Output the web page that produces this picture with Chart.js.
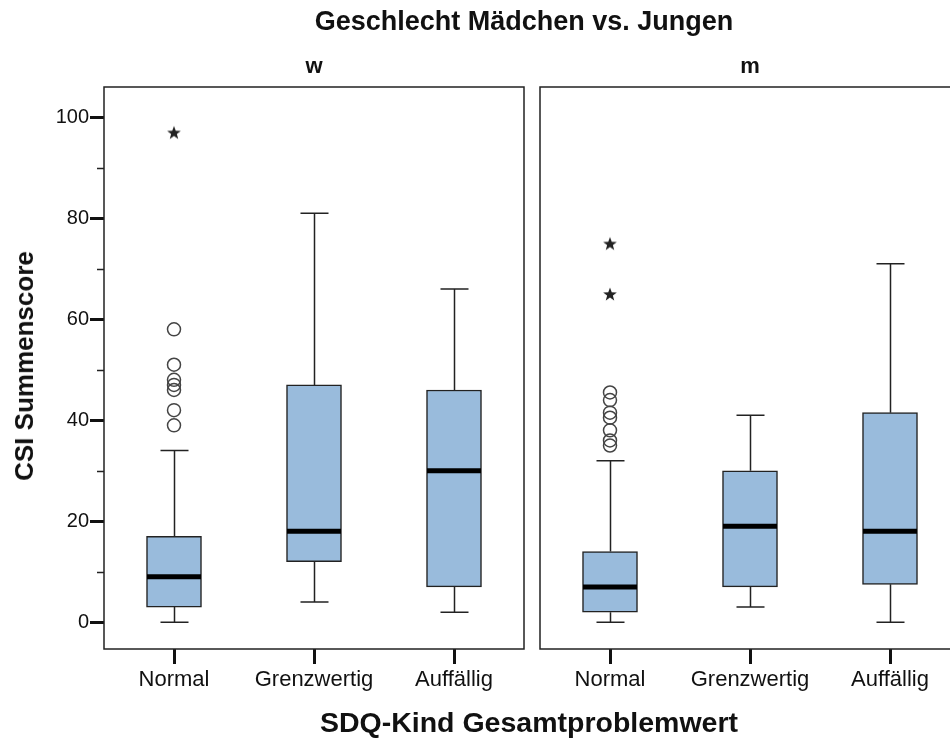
<!DOCTYPE html>
<html>
<head>
<meta charset="utf-8">
<script src="https://cdn.jsdelivr.net/npm/chart.js@4.4.1/dist/chart.umd.min.js"></script>
<style>
  html, body { margin: 0; padding: 0; background: #fff; }
  #wrap { position: relative; width: 950px; height: 747px; overflow: hidden; background: #fff;
          font-family: "Liberation Sans", Arial, sans-serif; color: #111; }
  canvas { position: absolute; top: 0; }
  .t { position: absolute; white-space: nowrap; line-height: 1; font-weight: bold; transform: translate(-50%, -50%); }
</style>
</head>
<body>
<div id="wrap">
  <canvas id="cw" width="533" height="747" style="left:0px"></canvas>
  <canvas id="cm" width="440" height="747" style="left:530px"></canvas>
  <div class="t" id="mainTitle" style="left:524px; top:21px; font-size:27px;">Geschlecht Mädchen vs. Jungen</div>
  <div class="t" id="panelW" style="left:314px; top:66px; font-size:22px;">w</div>
  <div class="t" id="panelM" style="left:750px; top:66px; font-size:22px;">m</div>
  <div class="t" id="xTitle" style="left:529px; top:722px; font-size:28.5px;">SDQ-Kind Gesamtproblemwert</div>
  <div class="t" id="yTitle" style="left:24px; top:366px; font-size:26px; transform: translate(-50%, -50%) rotate(-90deg);">CSI Summenscore</div>
</div>
<script>
// ---------- data ----------
const categories = ['Normal', 'Grenzwertig', 'Auffällig'];
const yTickValues = [0, 10, 20, 30, 40, 50, 60, 70, 80, 90, 100];

// Panel "w" (Mädchen)
const wMin = [0, 4, 2];
const wQ1  = [3, 12, 7];
const wMed = [9, 18, 30];
const wQ3  = [17, 47, 46];
const wMax = [34, 81, 66];
const wNormalOutliers = [58, 51, 48, 47, 46, 42, 39];
const wNormalExtremes = [97];

// Panel "m" (Jungen)
const mMin = [0, 3, 0];
const mQ1  = [2, 7, 7.5];
const mMed = [7, 19, 18];
const mQ3  = [14, 30, 41.5];
const mMax = [32, 41, 71];
const mNormalOutliers = [45.5, 44, 41.5, 40.5, 38, 36, 35];
const mNormalExtremes = [75, 65];

// ---------- styles ----------
const BOX_FILL = '#99bbdc';
const LINE = '#222';
const FONT = '"Liberation Sans", Arial, sans-serif';

// five-pointed star marker for extremes
function makeStar() {
  const c = document.createElement('canvas');
  c.width = 18; c.height = 18;
  const g = c.getContext('2d');
  g.fillStyle = '#222';
  g.beginPath();
  const cx = 9, cy = 9.6, R = 7.2, r = 3.0;
  for (let k = 0; k < 10; k++) {
    const rad = k % 2 === 0 ? R : r;
    const a = -Math.PI / 2 + k * Math.PI / 5;
    const x = cx + rad * Math.cos(a), y = cy + rad * Math.sin(a);
    if (k === 0) g.moveTo(x, y); else g.lineTo(x, y);
  }
  g.closePath();
  g.fill();
  return c;
}
const starImg = makeStar();

function buildChart(id, q1, med, q3, lo, hi, outliers, extremes, showY, padding) {
  const whiskerPlugin = {
    id: 'whiskers',
    afterDatasetsDraw(chart) {
      const ctx = chart.ctx, xs = chart.scales.x, ys = chart.scales.y;
      ctx.save();
      ctx.strokeStyle = LINE;
      ctx.lineWidth = 1.5;
      categories.forEach((c, i) => {
        const x = Math.round(xs.getPixelForValue(i)) + 0.5;
        const yLo = ys.getPixelForValue(lo[i]), yQ1 = ys.getPixelForValue(q1[i]);
        const yQ3 = ys.getPixelForValue(q3[i]), yHi = ys.getPixelForValue(hi[i]);
        ctx.beginPath();
        ctx.moveTo(x, yQ1); ctx.lineTo(x, yLo);
        ctx.moveTo(x - 14, yLo); ctx.lineTo(x + 14, yLo);
        ctx.moveTo(x, yQ3); ctx.lineTo(x, yHi);
        ctx.moveTo(x - 14, yHi); ctx.lineTo(x + 14, yHi);
        ctx.stroke();
      });
      ctx.strokeStyle = '#000';
      ctx.lineWidth = 5;
      categories.forEach((c, i) => {
        const x = xs.getPixelForValue(i);
        const ym = ys.getPixelForValue(med[i]);
        ctx.beginPath();
        ctx.moveTo(x - 27, ym); ctx.lineTo(x + 27, ym);
        ctx.stroke();
      });
      ctx.restore();
    },
    afterDraw(chart) {
      const ctx = chart.ctx, a = chart.chartArea, ys = chart.scales.y;
      ctx.save();
      ctx.strokeStyle = LINE;
      ctx.lineWidth = 1.5;
      ctx.strokeRect(a.left, a.top, a.right - a.left, a.bottom - a.top);
      if (showY) {
        ctx.beginPath();
        yTickValues.forEach(v => {
          if (v % 20 !== 0) {
            const y = Math.round(ys.getPixelForValue(v)) + 0.5;
            ctx.moveTo(a.left - 7, y); ctx.lineTo(a.left, y);
          }
        });
        ctx.stroke();
      }
      ctx.restore();
    }
  };

  return new Chart(document.getElementById(id), {
    type: 'bar',
    data: {
      labels: categories,
      datasets: [
        {
          type: 'bar',
          data: categories.map((c, i) => [q1[i], q3[i]]),
          backgroundColor: BOX_FILL,
          borderColor: LINE,
          borderWidth: 1.5,
          borderSkipped: false,
          barThickness: 55,
          order: 2
        },
        {
          type: 'line',
          showLine: false,
          data: outliers.map(v => ({ x: categories[0], y: v })),
          pointStyle: 'circle',
          pointRadius: 6.5,
          pointBorderWidth: 1.5,
          pointBorderColor: '#444',
          pointBackgroundColor: 'rgba(0,0,0,0)',
          order: 1
        },
        {
          type: 'line',
          showLine: false,
          data: extremes.map(v => ({ x: categories[0], y: v })),
          pointStyle: starImg,
          pointRadius: 8,
          order: 1
        }
      ]
    },
    options: {
      responsive: false,
      animation: false,
      devicePixelRatio: 1,
      layout: { padding: padding },
      plugins: { legend: { display: false }, title: { display: false }, tooltip: { enabled: false } },
      scales: {
        x: {
          type: 'category',
          offset: true,
          grid: { offset: false, drawOnChartArea: false, drawTicks: true, tickLength: 15, tickWidth: 3, tickColor: '#111' },
          border: { display: false },
          ticks: { color: '#111', font: { family: FONT, size: 22 }, padding: 3, maxRotation: 0, autoSkip: false },
          afterFit: s => { s.height = 98; s.paddingLeft = 0; s.paddingRight = 0; }
        },
        y: {
          display: showY,
          min: -5.3,
          max: 106,
          afterBuildTicks: s => { s.ticks = yTickValues.map(v => ({ value: v })); },
          grid: {
            drawOnChartArea: false, drawTicks: true, tickLength: 14, tickWidth: 3,
            tickColor: c => (c.tick && c.tick.value % 20 === 0) ? '#111' : 'rgba(0,0,0,0)'
          },
          border: { display: false },
          ticks: {
            color: '#111', font: { family: FONT, size: 20 }, padding: 1,
            callback: v => (v % 20 === 0 ? String(v) : '')
          },
          afterFit: s => { s.width = showY ? 104 : 0; s.paddingTop = 0; s.paddingBottom = 0; }
        }
      }
    },
    plugins: [whiskerPlugin]
  });
}

buildChart('cw', wQ1, wMed, wQ3, wMin, wMax, wNormalOutliers, wNormalExtremes, true,
           { top: 87, right: 6, bottom: 0, left: 0 });
buildChart('cm', mQ1, mMed, mQ3, mMin, mMax, mNormalOutliers, mNormalExtremes, false,
           { top: 87, right: 10, bottom: 0, left: 10 });
</script>
</body>
</html>
